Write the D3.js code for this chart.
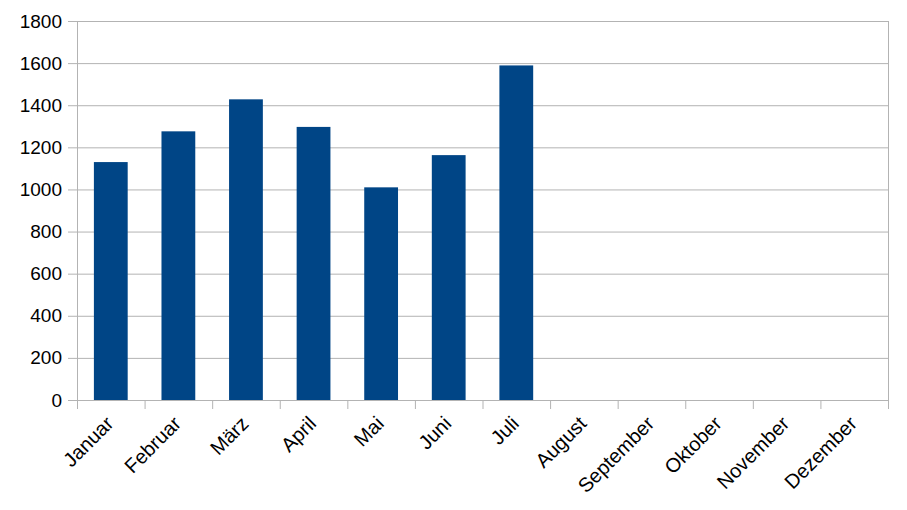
<!DOCTYPE html>
<html>
<head>
<meta charset="utf-8">
<script src="https://cdn.jsdelivr.net/npm/d3@7"></script>
<style>
  body { margin: 0; background: #fff; }
  svg { display: block; font-family: "Liberation Sans", Arial, sans-serif; }
</style>
</head>
<body>
<div id="chart"></div>
<script>
const months = ["Januar", "Februar", "März", "April", "Mai", "Juni", "Juli",
                "August", "September", "Oktober", "November", "Dezember"];
const values = [1130, 1276, 1428, 1297, 1010, 1163, 1589, null, null, null, null, null];
const yTicks = [0, 200, 400, 600, 800, 1000, 1200, 1400, 1600, 1800];

const width = 907, height = 510;
const margin = { top: 21, right: 19, bottom: 110, left: 77 };
const innerWidth = width - margin.left - margin.right;
const innerHeight = height - margin.top - margin.bottom;

const svg = d3.select("#chart").append("svg")
    .attr("width", width).attr("height", height);

const g = svg.append("g").attr("transform", `translate(${margin.left},${margin.top})`);

const x = d3.scaleBand().domain(months).range([0, innerWidth]).paddingInner(0.5).paddingOuter(0.25);
const xTick = d3.scaleBand().domain(months).range([0, innerWidth]);
const y = d3.scaleLinear().domain([0, 1800]).range([innerHeight, 0]);

// grid
g.append("g").selectAll("line").data(yTicks.filter(d => d > 0)).join("line")
    .attr("x1", 0).attr("x2", innerWidth)
    .attr("y1", d => y(d) + 0.5).attr("y2", d => y(d) + 0.5)
    .attr("stroke", "#b3b3b3").attr("stroke-width", 1);
g.append("line").attr("x1", innerWidth + 0.5).attr("x2", innerWidth + 0.5)
    .attr("y1", 0).attr("y2", innerHeight).attr("stroke", "#b3b3b3");

// bars
g.selectAll(".bar").data(months.map((m, i) => ({ m, v: values[i] })).filter(d => d.v != null))
  .join("rect")
    .attr("x", d => x(d.m)).attr("width", x.bandwidth())
    .attr("y", d => y(d.v)).attr("height", d => innerHeight - y(d.v))
    .attr("fill", "#004586");

// y axis
const yAxis = g.append("g")
    .call(d3.axisLeft(y).tickValues(yTicks).tickFormat(d3.format("d")).tickSize(9).tickPadding(6));
yAxis.select(".domain").attr("stroke", "#b3b3b3").attr("d", `M0.5,0V${innerHeight}`);
yAxis.selectAll(".tick line").attr("stroke", "#b3b3b3");
yAxis.selectAll("text").style("font-size", "19px").attr("fill", "#000");

// x axis
const xAxis = g.append("g").attr("transform", `translate(0,${innerHeight})`);
xAxis.append("line").attr("x1", -9).attr("x2", innerWidth).attr("y1", 0.5).attr("y2", 0.5)
    .attr("stroke", "#b3b3b3");
xAxis.selectAll(".xt").data(months.concat(["_end"])).join("line")
    .attr("x1", (d, i) => i * xTick.bandwidth() + 0.5).attr("x2", (d, i) => i * xTick.bandwidth() + 0.5)
    .attr("y1", 0).attr("y2", 9).attr("stroke", "#b3b3b3");
xAxis.selectAll(".xl").data(months).join("text")
    .attr("transform", d => `translate(${xTick(d) + xTick.bandwidth() / 2 - 6},${15}) rotate(-45)`)
    .attr("text-anchor", "end")
    .attr("dy", "0.7em")
    .style("font-size", "20px")
    .attr("fill", "#000")
    .text(d => d);
</script>
</body>
</html>
